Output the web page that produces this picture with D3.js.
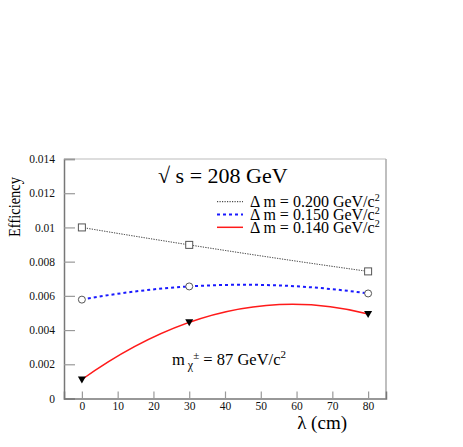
<!DOCTYPE html>
<html>
<head>
<meta charset="utf-8">
<script src="https://cdn.jsdelivr.net/npm/d3@7"></script>
<style>
  body { margin: 0; background: #fff; }
  text { font-family: "Liberation Serif", "Times New Roman", serif; }
</style>
</head>
<body>
<svg width="463" height="447"></svg>
<script>
'use strict';

// decay length in cm
var lambdas = [0, 30, 80];
var effDm200 = [0.0100, 0.00898, 0.00743];
var effDm150 = [0.00578, 0.00655, 0.00614];
var effDm140 = [0.00111, 0.00445, 0.00494];
var legendLabels = ['0.200', '0.150', '0.140'];
var xTicks = [0, 10, 20, 30, 40, 50, 60, 70, 80];
var yTicks = [0, 0.002, 0.004, 0.006, 0.008, 0.01, 0.012, 0.014];

var svg = d3.select('svg');

var x = d3.scaleLinear().domain([-5, 85]).range([64, 386]);
var y = d3.scaleLinear().domain([0, 0.014]).range([398.5, 159]);

// smooth curve like the ROOT "C" option: parabola through three points
function curveParabola(context) {
    var pts;
    return {
        areaStart: function() {},
        areaEnd: function() {},
        lineStart: function() { pts = []; },
        point: function(px, py) { pts.push([+px, +py]); },
        lineEnd: function() {
            if (pts.length !== 3) {
                pts.forEach(function(p, i) { i ? context.lineTo(p[0], p[1]) : context.moveTo(p[0], p[1]); });
                return;
            }
            var x0 = pts[0][0], y0 = pts[0][1], x1 = pts[1][0], y1 = pts[1][1], x2 = pts[2][0], y2 = pts[2][1];
            var slope = y0 * (2 * x0 - x1 - x2) / ((x0 - x1) * (x0 - x2))
                + y1 * (x0 - x2) / ((x1 - x0) * (x1 - x2))
                + y2 * (x0 - x1) / ((x2 - x0) * (x2 - x1));
            context.moveTo(x0, y0);
            context.quadraticCurveTo((x0 + x2) / 2, y0 + slope * (x2 - x0) / 2, x2, y2);
        }
    };
}

// frame, top + right lighter
svg.append('line').attr('x1', 64).attr('x2', 386).attr('y1', 159).attr('y2', 159)
    .style('stroke', '#bbb').style('stroke-width', 1.2);
svg.append('line').attr('x1', 386).attr('x2', 386).attr('y1', 159).attr('y2', 398.5)
    .style('stroke', '#aaa').style('stroke-width', 1.5);

var yAxis = svg.append('g')
    .attr('transform', 'translate(64,0)')
    .call(d3.axisLeft(y).tickValues(yTicks).tickSize(-11).tickPadding(9)
        .tickFormat(function(d) { return d === 0 ? '0' : String(+d.toFixed(3)); }));

var xAxis = svg.append('g')
    .attr('transform', 'translate(0,398.5)')
    .call(d3.axisBottom(x).tickValues(xTicks).tickSize(-7).tickPadding(3.5));

[yAxis, xAxis].forEach(function(g) {
    g.select('.domain').style('stroke', '#777').style('stroke-width', 1.5);
    g.selectAll('.tick line').style('stroke', '#999').style('stroke-width', 1.2);
    g.selectAll('.tick text').style('font-family', '"Liberation Serif", "Times New Roman", serif')
        .style('font-size', '11.5px').style('fill', '#111');
});

var series = [
    { vals: effDm200, color: '#222', width: 1, dash: '1.2,1.3', marker: 'square' },
    { vals: effDm150, color: '#1a1aff', width: 2, dash: '3,3', marker: 'circle' },
    { vals: effDm140, color: '#ff1a1a', width: 1.5, dash: null, marker: 'triangle' }
];

var line = d3.line()
    .x(function(d) { return x(d[0]); })
    .y(function(d) { return y(d[1]); })
    .curve(curveParabola);

series.forEach(function(s) {
    var pts = lambdas.map(function(l, i) { return [l, s.vals[i]]; });
    svg.append('path')
        .datum(pts)
        .attr('d', line)
        .style('fill', 'none')
        .style('stroke', s.color)
        .style('stroke-width', s.width)
        .style('stroke-dasharray', s.dash);

    var m = svg.selectAll('.m-' + s.marker).data(pts).enter();
    if (s.marker === 'square') {
        m.append('rect')
            .attr('x', function(d) { return x(d[0]) - 3.5; })
            .attr('y', function(d) { return y(d[1]) - 3.5; })
            .attr('width', 7).attr('height', 7)
            .style('fill', '#fff').style('stroke', '#555').style('stroke-width', 1);
    } else if (s.marker === 'circle') {
        m.append('circle')
            .attr('cx', function(d) { return x(d[0]); })
            .attr('cy', function(d) { return y(d[1]); })
            .attr('r', 3.5)
            .style('fill', '#fff').style('stroke', '#555').style('stroke-width', 1);
    } else {
        m.append('path')
            .attr('transform', function(d) { return 'translate(' + x(d[0]) + ',' + y(d[1]) + ')'; })
            .attr('d', 'M-4,-3L4,-3L0,4Z')
            .style('fill', '#000');
    }
});

// title
svg.append('text').attr('x', 158).attr('y', 183)
    .style('font-size', '22px').text('\u221A s = 208 GeV');

// legend
var legend = svg.selectAll('.legend').data(series).enter().append('g')
    .attr('transform', function(d, i) { return 'translate(0,' + (201.7 + i * 12.8) + ')'; });
legend.append('line').attr('x1', 217).attr('x2', 243)
    .style('stroke', function(d) { return d.color; })
    .style('stroke-width', function(d) { return d.width; })
    .style('stroke-dasharray', function(d) { return d.dash; });
legend.append('text').attr('x', 250).attr('y', 5.5).style('font-size', '16px')
    .each(function(d, i) {
        var t = d3.select(this);
        t.append('tspan').text('\u0394 m = ' + legendLabels[i] + ' GeV/c');
        t.append('tspan').attr('dy', -6).style('font-size', '10px').text('2');
    });

// mass label
var mt = svg.append('text').attr('x', 172).attr('y', 365).style('font-size', '16.5px');
mt.append('tspan').text('m');
mt.append('tspan').attr('dy', 4).style('font-size', '12px').text(' \u03C7');
mt.append('tspan').attr('dy', -10).style('font-size', '11px').text('\u00B1');
mt.append('tspan').attr('dy', 6).text(' = 87 GeV/c');
mt.append('tspan').attr('dy', -7).style('font-size', '11px').text('2');

// axis titles
svg.append('text').attr('x', 347).attr('y', 429).attr('text-anchor', 'end')
    .style('font-size', '19px').text('\u03BB (cm)');
svg.append('text').attr('transform', 'translate(20,177) rotate(-90)').attr('text-anchor', 'end')
    .attr('textLength', 60).attr('lengthAdjust', 'spacingAndGlyphs')
    .style('font-size', '17px').text('Efficiency');
</script>
</body>
</html>
